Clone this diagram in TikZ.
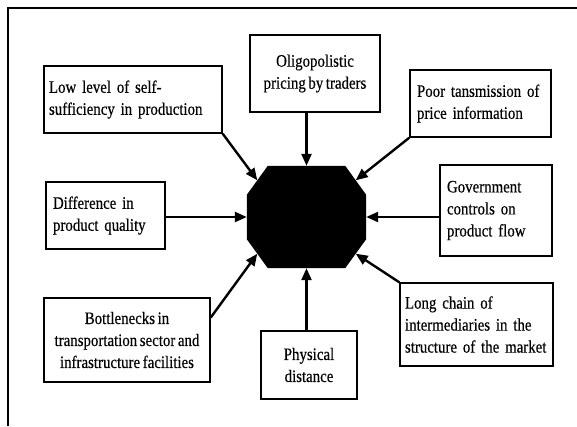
\documentclass[tikz,border=0pt]{standalone}
\usepackage{fontspec}
\newfontfamily\boxfont{Liberation Serif}[FakeStretch=0.85, WordSpace=0.7, FakeBold=0.4]
\usetikzlibrary{arrows.meta,calc,positioning}
\tikzset{
    box/.style ={draw, line width=1.4pt, inner xsep=5pt, inner ysep=3pt,
                 font={\boxfont\fontsize{17.5pt}{22pt}\selectfont}},
    arr/.style ={line width=2.4pt, -{Triangle[length=12pt,width=10pt]}},
    frame/.style ={line width=1.8pt},
    hubbox/.style ={rectangle, inner sep=0pt, minimum width=119pt, minimum height=102pt}
}
\begin{document}
\begin{tikzpicture}[x=1pt,y=-1pt]
    \useasboundingbox (0,0) rectangle (577,426);
    \draw[frame] (577,8) -- (8,8) -- (8,426);

    % centre octagon
    \node[hubbox] (hub) at (306.5,217) {};
    \coordinate (h1) at ([xshift=21pt]hub.north west);
    \coordinate (h2) at ([xshift=-21pt]hub.north east);
    \coordinate (h3) at ([yshift=-29pt]hub.north east);
    \coordinate (h4) at ([yshift=29pt]hub.south east);
    \coordinate (h5) at ([xshift=-21pt]hub.south east);
    \coordinate (h6) at ([xshift=21pt]hub.south west);
    \coordinate (h7) at ([yshift=29pt]hub.south west);
    \coordinate (h8) at ([yshift=-29pt]hub.north west);
    \fill (h1) -- (h2) -- (h3) -- (h4) -- (h5) -- (h6) -- (h7) -- (h8) -- cycle;

    % factors
    \node[box, minimum width=178pt, minimum height=67pt, text width=168pt, align=left] (low) at (133,99.5)
        {Low level of self-\\sufficiency in production};
    \node[box, minimum width=130pt, minimum height=77pt, align=center] (oligo) at (315,73.5)
        {Oligopolistic\\pricing by traders};
    \node[box, minimum width=141pt, minimum height=67pt, text width=127pt, align=left, inner xsep=7pt] (poor) at (480.5,103.5)
        {Poor tansmission of\\price information};
    \node[box, minimum width=119pt, minimum height=67pt, text width=105pt, align=left, inner xsep=7pt] (diff) at (105.5,215.5)
        {Difference in\\product quality};
    \node[box, minimum width=112pt, minimum height=91pt, text width=98pt, align=left, inner xsep=7pt] (gov) at (496,210.5)
        {Government\\controls on\\product flow};
    \node[box, minimum width=166pt, minimum height=84pt, align=center] (bottle) at (127,340)
        {Bottlenecks in\\transportation sector and\\infrastructure facilities};
    \node[box, minimum width=96pt, minimum height=68pt, align=center] (phys) at (309,365)
        {Physical\\distance};
    \node[box, minimum width=153pt, minimum height=83pt, text width=143pt, align=left] (long) at (476.5,324.5)
        {Long chain of\\intermediaries in the\\structure of the market};

    \draw[arr] (low.south east) -- ($(h8)!.5!(h1)$);
    \draw[arr] (oligo.south -| hub) -- (hub.north);
    \draw[arr] (poor.south west) -- ($(h2)!.5!(h3)$);
    \draw[arr] (diff.east |- hub) -- (hub.west);
    \draw[arr] (gov.west |- hub) -- (hub.east);
    \draw[arr] (bottle.15) -- ($(h6)!.5!(h7)$);
    \draw[arr] (phys.north -| hub) -- (hub.south);
    \draw[arr] (long.north west) -- ($(h4)!.5!(h5)$);
\end{tikzpicture}
\end{document}
